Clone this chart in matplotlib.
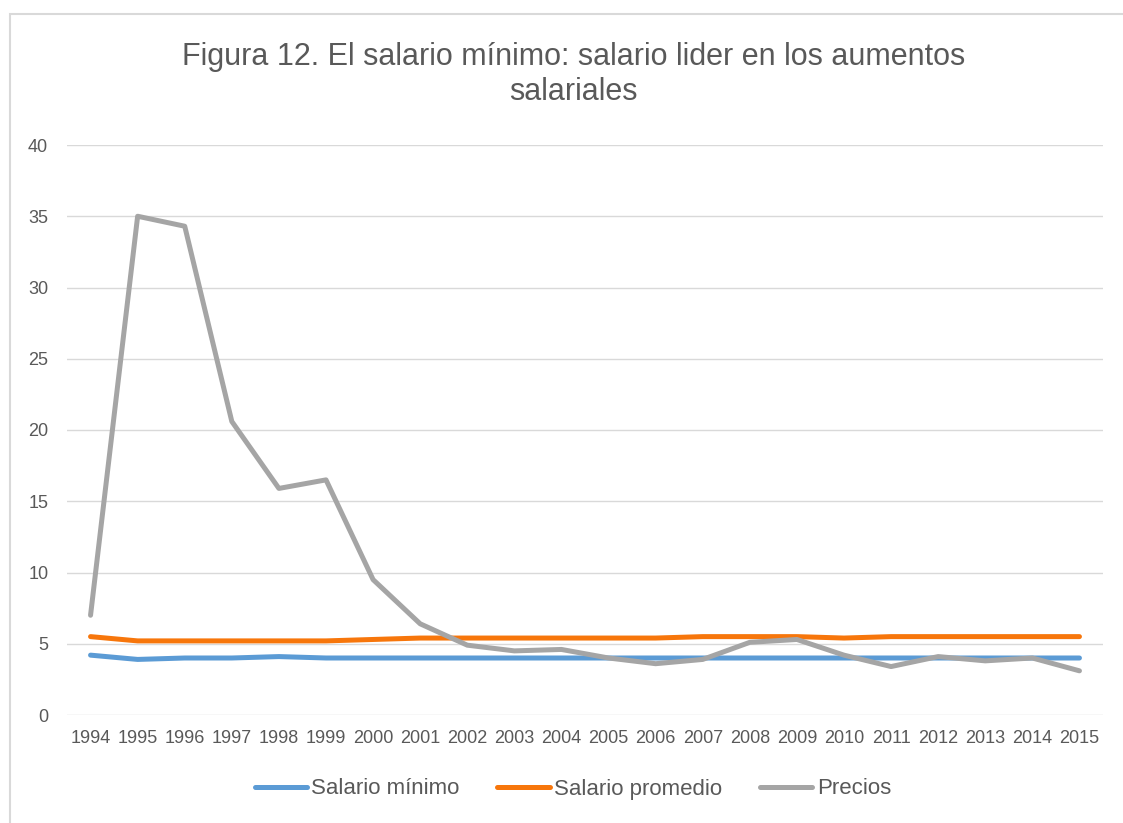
import matplotlib
matplotlib.use("Agg")
import matplotlib.pyplot as plt
from matplotlib.patches import Rectangle

years = [str(y) for y in range(1994, 2016)]
salario_minimo = [4.2, 3.9, 4.0, 4.0, 4.1, 4.0, 4.0, 4.0, 4.0, 4.0, 4.0,
                  4.0, 4.0, 4.0, 4.0, 4.0, 4.0, 4.0, 4.0, 4.0, 4.0, 4.0]
salario_promedio = [5.5, 5.2, 5.2, 5.2, 5.2, 5.2, 5.3, 5.4, 5.4, 5.4, 5.4,
                    5.4, 5.4, 5.5, 5.5, 5.5, 5.4, 5.5, 5.5, 5.5, 5.5, 5.5]
precios = [7.0, 35.0, 34.3, 20.6, 15.9, 16.5, 9.5, 6.4, 4.9, 4.5, 4.6,
           4.0, 3.6, 3.9, 5.1, 5.3, 4.2, 3.4, 4.1, 3.8, 4.0, 3.1]
yticks = [0, 5, 10, 15, 20, 25, 30, 35, 40]

plt.rcParams['font.family'] = ['Liberation Sans', 'DejaVu Sans']
txt = '#595959'

fig = plt.figure(figsize=(11.23, 8.23), dpi=100)
fig.patches.append(Rectangle((10/1123, -0.05), 1.2, 1 - 14/823 + 0.05,
                             transform=fig.transFigure, fill=False,
                             edgecolor='#D9D9D9', linewidth=1.5, zorder=0))

ax = fig.add_axes([67/1123, 1 - 715/823, (1103 - 67)/1123, (715 - 145)/823])
x = list(range(len(years)))
ax.plot(x, salario_minimo, color='#5B9BD5', lw=3.6, label='Salario mínimo',
        solid_capstyle='round', solid_joinstyle='round', zorder=3)
ax.plot(x, salario_promedio, color='#F7760B', lw=3.6, label='Salario promedio',
        solid_capstyle='round', solid_joinstyle='round', zorder=3)
ax.plot(x, precios, color='#A5A5A5', lw=3.6, label='Precios',
        solid_capstyle='round', solid_joinstyle='round', zorder=4)

ax.set_xlim(-0.5, len(years) - 0.5)
ax.set_ylim(0, 40)
ax.set_yticks(yticks)
ax.set_yticklabels([str(v) for v in yticks])
ax.set_xticks(x)
ax.set_xticklabels(years)
ax.grid(axis='y', color='#D9D9D9', lw=1)
ax.set_axisbelow(True)
for s in ax.spines.values():
    s.set_visible(False)
ax.tick_params(axis='both', length=0, colors=txt, labelsize=13)
ax.tick_params(axis='y', pad=13.5)
ax.tick_params(axis='x', pad=10.5)

fig.text(0.511, 1 - 57/823, 'Figura 12. El salario mínimo: salario lider en los aumentos',
         ha='center', va='center', fontsize=22, color=txt)
fig.text(0.511, 1 - 92/823, 'salariales', ha='center', va='center',
         fontsize=22, color=txt)

leg = fig.legend(loc='center', bbox_to_anchor=(0.51, 1 - 789/823), ncol=3,
                 frameon=False, fontsize=16, handlelength=2.35,
                 handletextpad=0.2, columnspacing=1.7)
for t in leg.get_texts():
    t.set_color(txt)

fig.savefig('out.png', dpi=100)
